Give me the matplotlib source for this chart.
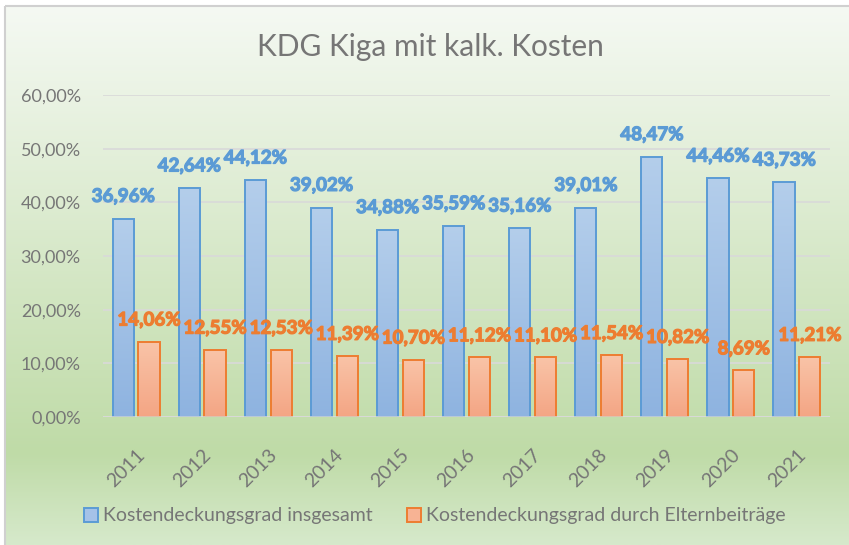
import numpy as np
import matplotlib
matplotlib.use("Agg")
import matplotlib.pyplot as plt
import matplotlib.patheffects as pe
from matplotlib.colors import LinearSegmentedColormap
from matplotlib.patches import Rectangle
from matplotlib.ticker import FuncFormatter, MultipleLocator

# Werte aus der Grafik
years = ["2011", "2012", "2013", "2014", "2015", "2016", "2017", "2018", "2019", "2020", "2021"]
gesamt = [36.96, 42.64, 44.12, 39.02, 34.88, 35.59, 35.16, 39.01, 48.47, 44.46, 43.73]
eltern = [14.06, 12.55, 12.53, 11.39, 10.70, 11.12, 11.10, 11.54, 10.82, 8.69, 11.21]
series_names = ["Kostendeckungsgrad insgesamt", "Kostendeckungsgrad durch Elternbeiträge"]
title = "KDG Kiga mit kalk. Kosten"

plt.rcParams['font.family'] = ['Lato', 'DejaVu Sans']

W, H = 849, 545
fig = plt.figure(figsize=(W / 100, H / 100), dpi=100)
fig.patch.set_facecolor('white')

# Hintergrund mit Verlauf (Diagrammbereich)
bg = fig.add_axes([0, 0, 1, 1], zorder=-10)
bg.set_xlim(0, W)
bg.set_ylim(H, 0)
bg.axis('off')
bg_cmap = LinearSegmentedColormap.from_list(
    'bg', [(0.0, '#f5f9f3'), (0.83, '#bfdba7'), (1.0, '#d6e9cb')])
grad = np.linspace(0, 1, 256).reshape(-1, 1)
box_x0, box_y0 = 5, 6
bg.imshow(grad, cmap=bg_cmap, extent=[box_x0, W, H, box_y0], aspect='auto', zorder=0)
bg.add_patch(Rectangle((box_x0, box_y0), W + 10, H + 10, fill=False,
                       edgecolor='#d0d0d0', lw=1.5, zorder=1))

# Plotbereich
left, right = 103 / W, 830 / W
bottom, top = (H - 417) / H, (H - 95) / H
ax = fig.add_axes([left, bottom, right - left, top - bottom])
ax.set_facecolor('none')

x = np.arange(len(years))
w = 0.32
off = 0.195

b1 = ax.bar(x - off, gesamt, w, facecolor='none', edgecolor='#5b9bd5', lw=1.4, zorder=3)
b2 = ax.bar(x + off, eltern, w, facecolor='none', edgecolor='#ed7d31', lw=1.4, zorder=3)

blue_cmap = LinearSegmentedColormap.from_list('b', ['#8eb3e0', '#b4ceeb'])
orange_cmap = LinearSegmentedColormap.from_list('o', ['#f4a584', '#f9c4a8'])
for bars, cm in ((b1, blue_cmap), (b2, orange_cmap)):
    for bar in bars:
        bx, by = bar.get_x(), bar.get_y()
        bw, bh = bar.get_width(), bar.get_height()
        im = ax.imshow(grad, cmap=cm, origin='lower', aspect='auto',
                       extent=[bx, bx + bw, by, by + bh], zorder=2.5)
        im.set_clip_path(bar)

ax.set_xlim(-0.5, len(years) - 0.5)
ax.set_ylim(0, 60)

# Datenbeschriftungen (etwas fetter durch Kontur in gleicher Farbe)
for bars, vals, col, dy in ((b1, gesamt, '#5b9bd5', 16), (b2, eltern, '#ed7d31', 15.5)):
    for bar, v in zip(bars, vals):
        ax.annotate(f"{v:.2f}%".replace('.', ','), (bar.get_x() + bar.get_width() / 2, v),
                    xytext=(0, dy), textcoords='offset points', ha='center', va='center',
                    fontsize=13.5, fontweight='bold', color=col, zorder=5,
                    path_effects=[pe.withStroke(linewidth=0.9, foreground=col)])

# Achsen
for s in ax.spines.values():
    s.set_visible(False)
ax.yaxis.set_major_locator(MultipleLocator(10))
ax.yaxis.set_major_formatter(FuncFormatter(lambda v, p: f"{v:.2f}%".replace('.', ',')))
ax.grid(axis='y', color='#d9d9d9', lw=1.2, zorder=0)
ax.set_axisbelow(True)
ax.axhline(0, color='#d9d9d9', lw=1.8, zorder=4)
ax.tick_params(axis='y', length=0, pad=16, labelsize=13, labelcolor='#767676')
ax.set_xticks(x)
ax.set_xticklabels(years, rotation=45, ha='right', rotation_mode='anchor')
ax.tick_params(axis='x', length=0, pad=21, labelsize=14, labelcolor='#767676')

fig.text(430 / W, 1 - 47 / H, title, ha='center', va='center',
         fontsize=21.5, fontweight='normal', color='#767676')

handles = [Rectangle((0, 0), 1, 1, facecolor='#a5c2e8', edgecolor='#5b9bd5', lw=1.4),
           Rectangle((0, 0), 1, 1, facecolor='#f7b394', edgecolor='#ed7d31', lw=1.4)]
fig.legend(handles, series_names, loc='center', bbox_to_anchor=(435 / W, 1 - 516 / H),
           ncol=2, frameon=False, fontsize=14, labelcolor='#767676',
           handlelength=0.7, handleheight=0.7, handletextpad=0.25, columnspacing=1.8)

fig.savefig('out.png', dpi=100)
